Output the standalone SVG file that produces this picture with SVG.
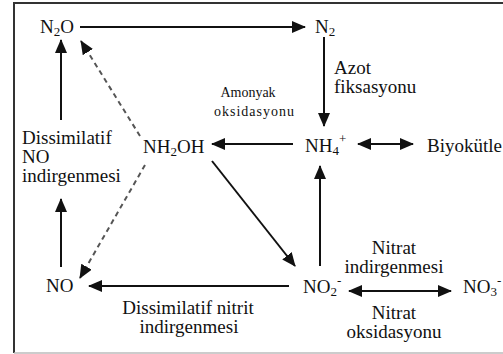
<svg xmlns="http://www.w3.org/2000/svg" width="503" height="354" viewBox="0 0 503 354">
<style>
text{font-size:19px;fill:#111}
.sm{font-size:14px}
.ln{stroke:#111;stroke-width:2;fill:none}
.ds{stroke:#555;stroke-width:2;fill:none;stroke-dasharray:5 4}
</style>
<defs>
<marker id="ah" markerUnits="userSpaceOnUse" markerWidth="14" markerHeight="12" refX="13" refY="6" orient="auto">
<path d="M0,0 L14,6 L0,12 Z" fill="#111"/>
</marker>
<marker id="ahs" markerUnits="userSpaceOnUse" markerWidth="14" markerHeight="12" refX="1" refY="6" orient="auto">
<path d="M14,0 L0,6 L14,12 Z" fill="#111"/>
</marker>
</defs>
<rect width="503" height="354" fill="#fff"/>
<g id="frame">
<line x1="13" y1="3" x2="503" y2="3" stroke="#333" stroke-width="2"/>
<line x1="14" y1="2" x2="14" y2="353" stroke="#333" stroke-width="2"/>
<line x1="14" y1="353" x2="503" y2="353" stroke="#bbb" stroke-width="1.5"/>
</g>
<g id="connectors">
<line class="ln" x1="80" y1="27" x2="305" y2="27" marker-end="url(#ah)"/>
<line class="ln" x1="324" y1="37" x2="324" y2="126" marker-end="url(#ah)"/>
<line class="ln" x1="293" y1="144" x2="212" y2="144" marker-end="url(#ah)"/>
<line class="ln" x1="358" y1="144" x2="413" y2="144" marker-start="url(#ahs)" marker-end="url(#ah)"/>
<line class="ln" x1="320" y1="266" x2="320" y2="166" marker-end="url(#ah)"/>
<line class="ln" x1="212" y1="161" x2="295" y2="266" marker-end="url(#ah)"/>
<line class="ln" x1="289" y1="286" x2="89" y2="286" marker-end="url(#ah)"/>
<line class="ln" x1="349" y1="291" x2="451" y2="291" marker-start="url(#ahs)" marker-end="url(#ah)"/>
<line class="ln" x1="61" y1="267" x2="61" y2="199" marker-end="url(#ah)"/>
<line class="ln" x1="61" y1="120" x2="61" y2="40" marker-end="url(#ah)"/>
<line class="ds" x1="140" y1="136" x2="81" y2="41" marker-end="url(#ah)"/>
<line class="ds" x1="145" y1="165" x2="80" y2="278" marker-end="url(#ah)"/>
</g>
<g id="n2o"><text font-family="Liberation Serif, serif" x="40" y="33">N<tspan font-size="13" dy="3">2</tspan><tspan dy="-3">O</tspan></text></g>
<g id="n2"><text font-family="Liberation Serif, serif" x="315" y="33">N<tspan font-size="13" dy="3">2</tspan></text></g>
<g id="azot"><text font-family="Liberation Serif, serif" x="334" y="74">Azot</text><text font-family="Liberation Serif, serif" x="334" y="93">fiksasyonu</text></g>
<g id="amonyak"><text font-family="Liberation Serif, serif" class="sm" x="248" y="97" text-anchor="middle">Amonyak</text><text font-family="Liberation Serif, serif" class="sm" x="254" y="116" text-anchor="middle" textLength="80" lengthAdjust="spacing">oksidasyonu</text></g>
<g id="nh4"><text font-family="Liberation Serif, serif" x="305" y="152" font-size="20">NH<tspan font-size="13" dy="3">4</tspan><tspan font-size="13" dy="-12">+</tspan></text></g>
<g id="biyokutle"><text font-family="Liberation Serif, serif" x="427" y="152">Biyokütle</text></g>
<g id="nh2oh"><text font-family="Liberation Serif, serif" x="143" y="153" font-size="20">NH<tspan font-size="13" dy="3">2</tspan><tspan dy="-3">OH</tspan></text></g>
<g id="dissno"><text font-family="Liberation Serif, serif" x="22" y="144">Dissimilatif</text><text font-family="Liberation Serif, serif" x="22" y="163">NO</text><text font-family="Liberation Serif, serif" x="22" y="182">indirgenmesi</text></g>
<g id="no"><text font-family="Liberation Serif, serif" x="46" y="292">NO</text></g>
<g id="no2"><text font-family="Liberation Serif, serif" x="303" y="293">NO<tspan font-size="13" dy="3">2</tspan><tspan font-size="13" dy="-11">-</tspan></text></g>
<g id="no3"><text font-family="Liberation Serif, serif" x="463" y="293">NO<tspan font-size="13" dy="3">3</tspan><tspan font-size="13" dy="-11">-</tspan></text></g>
<g id="nitrind"><text font-family="Liberation Serif, serif" x="394" y="254" text-anchor="middle">Nitrat</text><text font-family="Liberation Serif, serif" x="394" y="273" text-anchor="middle">indirgenmesi</text></g>
<g id="nitroks"><text font-family="Liberation Serif, serif" x="394" y="319" text-anchor="middle">Nitrat</text><text font-family="Liberation Serif, serif" x="394" y="338" text-anchor="middle">oksidasyonu</text></g>
<g id="dissnit"><text font-family="Liberation Serif, serif" x="188" y="314" text-anchor="middle">Dissimilatif nitrit</text><text font-family="Liberation Serif, serif" x="189" y="333" text-anchor="middle">indirgenmesi</text></g>
</svg>
